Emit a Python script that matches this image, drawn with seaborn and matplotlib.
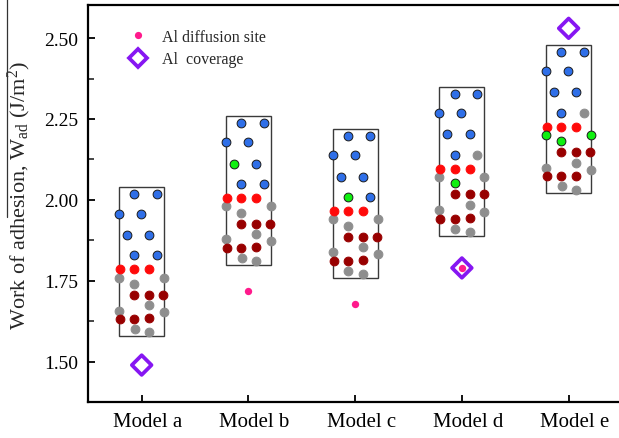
import numpy as np
import pandas as pd
import matplotlib
matplotlib.use("Agg")
import matplotlib.pyplot as plt
import seaborn as sns
from matplotlib.patches import Rectangle
from matplotlib.lines import Line2D
from matplotlib.transforms import ScaledTranslation

# ---- data -----------------------------------------------------------------
models = ["Model a", "Model b", "Model c", "Model d", "Model e"]
# spread of the work of adhesion over the interface configurations (J/m^2)
wad_high = [2.04, 2.26, 2.22, 2.35, 2.48]
wad_low = [1.58, 1.80, 1.76, 1.89, 2.02]
# Al diffusion site
diff_models = ["Model b", "Model c", "Model d"]
diff_wad = [1.72, 1.68, 1.79]
# Al coverage
cov_models = ["Model a", "Model d", "Model e"]
cov_wad = [1.49, 1.79, 2.53]
y_ticks = [1.50, 1.75, 2.00, 2.25, 2.50]

# interface cell sketch drawn inside each box (fractions of the box, y from top)
site_fx = [0.34, 0.84, 0.00, 0.49, 0.18, 0.67, 0.34, 0.84,
           0.02, 0.34, 0.67,
           0.00, 1.00, 0.34,
           0.34, 0.67, 0.98,
           0.67, 0.00, 1.00,
           0.02, 0.34, 0.67,
           0.35, 0.67]
site_fy = [0.047, 0.047, 0.179, 0.179, 0.321, 0.321, 0.457, 0.457,
           0.554, 0.554, 0.554,
           0.608, 0.608, 0.650,
           0.724, 0.724, 0.724,
           0.794, 0.830, 0.841,
           0.886, 0.886, 0.881,
           0.953, 0.975]
site_kind = (["blue"] * 8 + ["red"] * 3 + ["grey"] * 3 + ["dark"] * 3
             + ["grey"] * 3 + ["dark"] * 3 + ["grey"] * 2)
substitutions = {
    "Model b": {4: "green"},
    "Model c": {6: "green"},
    "Model d": {7: "grey", 13: "green"},
    "Model e": {7: "grey", 11: "green", 12: "green", 13: "green"},
}

# ---- style ----------------------------------------------------------------
sns.set_theme(style="ticks")
plt.rcParams["font.family"] = ["Liberation Serif", "DejaVu Serif"]
plt.rcParams["mathtext.fontset"] = "custom"
plt.rcParams["mathtext.rm"] = "Liberation Serif"
plt.rcParams["mathtext.it"] = "Liberation Serif:italic"

kind_face = {"blue": "#2f6fe8", "red": "#ff0a0a", "grey": "#8e8e8e",
             "dark": "#980000", "green": "#10f010"}
kind_edge = {"blue": "#1a1a1a", "red": "#ff0a0a", "grey": "#8e8e8e",
             "dark": "#980000", "green": "#1a1a1a"}
pink = "#ff1a8c"
violet = "#8616f2"
box_w = 0.422

fig = plt.figure(figsize=(6.19, 4.39), dpi=100)
ax = fig.add_axes([88.3 / 619, 1 - 403.3 / 439, (622 - 88.3) / 619,
                   (403.3 - 6) / 439])

# ---- boxes and atoms ------------------------------------------------------
rows = []
for i, m in enumerate(models):
    top, low = wad_high[i], wad_low[i]
    ax.add_patch(Rectangle((i - box_w / 2, low), box_w, top - low,
                           fill=False, edgecolor="#3a3a3a", lw=1.0, zorder=2))
    subs = substitutions.get(m, {})
    for k, (fx, fy, kind) in enumerate(zip(site_fx, site_fy, site_kind)):
        rows.append({"x": i - box_w / 2 + fx * box_w,
                     "y": top - fy * (top - low),
                     "kind": subs.get(k, kind)})
atoms = pd.DataFrame(rows)
for kind in ["grey", "dark", "red", "blue", "green"]:
    sub = atoms[atoms["kind"] == kind]
    if len(sub):
        sns.scatterplot(data=sub, x="x", y="y", ax=ax, s=40,
                        color=kind_face[kind], edgecolor=kind_edge[kind],
                        linewidth=0.7, zorder=3, legend=False)

# ---- coverage and diffusion-site values -----------------------------------
cov = pd.DataFrame({"x": [models.index(m) for m in cov_models], "y": cov_wad})
sns.scatterplot(data=cov, x="x", y="y", ax=ax, marker="D", s=100,
                facecolor="none", edgecolor=violet, linewidth=2.7,
                zorder=4, legend=False)
diff = pd.DataFrame({"x": [models.index(m) for m in diff_models], "y": diff_wad})
sns.scatterplot(data=diff, x="x", y="y", ax=ax, s=28, color=pink,
                edgecolor=pink, linewidth=0, zorder=5, legend=False)

# ---- axes -----------------------------------------------------------------
ax.set_xlim(-0.5, 4.5)
ax.set_ylim(1.377, 2.602)
ax.set_xticks(range(len(models)))
ax.set_xticklabels(models, fontsize=15)
ax.set_yticks(y_ticks)
ax.set_yticklabels([f"{v:.2f}" for v in y_ticks], fontsize=14)
ax.set_yticks(np.arange(1.375, 2.6, 0.125), minor=True)
ax.tick_params(axis="both", which="major", direction="in", length=5,
               width=1.3, colors="black", pad=7)
ax.tick_params(axis="y", which="minor", direction="in", length=4, width=1.2)
ax.set_xlabel("")
ax.set_ylabel(r"Work of adhesion, W$_{\mathrm{ad}}$ (J/m$^{2}$)", fontsize=16)
ax.yaxis.set_label_coords(-0.104, 0.524)
for side in ["left", "bottom", "top", "right"]:
    ax.spines[side].set_linewidth(1.6)
    ax.spines[side].set_color("black")
shift = ScaledTranslation(6 / 100, 0, fig.dpi_scale_trans)
for lab in ax.get_xticklabels():
    lab.set_transform(lab.get_transform() + shift)

# bar over the quantity symbol of the y label
fig.add_artist(Line2D([7 / 619, 7 / 619], [1 - 218 / 439, 1.0],
                      transform=fig.transFigure, color="#333333", lw=0.9))

# ---- legend ---------------------------------------------------------------
handles = [
    Line2D([], [], ls="", marker="o", markersize=5.2, color=pink,
           markeredgewidth=0),
    Line2D([], [], ls="", marker="D", markersize=9.5, markerfacecolor="none",
           markeredgecolor=violet, markeredgewidth=2.7),
]
ax.legend(handles, ["Al diffusion site", "Al  coverage"], loc="upper left",
          bbox_to_anchor=(0.075, 0.94), frameon=False, fontsize=11.5,
          handlelength=1.2, handletextpad=0.9, labelspacing=0.4,
          borderpad=0, borderaxespad=0)

fig.savefig("out.png", dpi=100)
